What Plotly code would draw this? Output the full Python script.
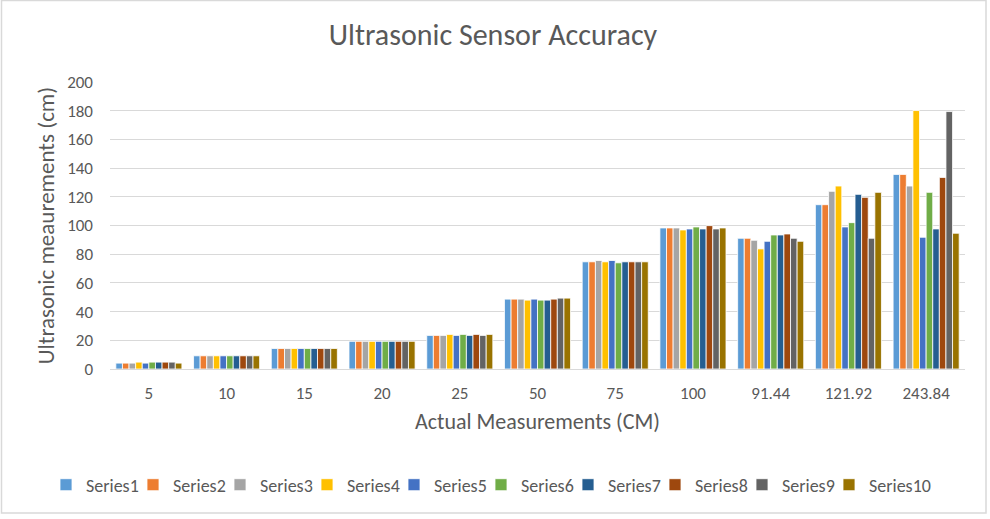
import plotly.graph_objects as go

categories = ["5", "10", "15", "20", "25", "50", "75", "100", "91.44", "121.92", "243.84"]
series_names = ["Series1", "Series2", "Series3", "Series4", "Series5",
                "Series6", "Series7", "Series8", "Series9", "Series10"]

# values per series, one value per category
s1 = [4.1, 9.2, 14.3, 19.3, 23.4, 48.7, 74.7, 98.3, 91.1, 114.5, 135.6]
s2 = [4.1, 9.2, 14.3, 19.3, 23.4, 48.7, 74.7, 98.3, 91.1, 114.5, 135.6]
s3 = [4.1, 9.2, 14.3, 19.3, 23.4, 48.7, 75.6, 98.3, 89.7, 123.8, 127.5]
s4 = [4.8, 9.2, 14.3, 19.3, 24.1, 48.0, 74.7, 96.9, 83.7, 127.5, 180.1]
s5 = [4.1, 9.2, 14.3, 19.3, 23.4, 48.7, 75.6, 97.6, 89.0, 99.0, 91.8]
s6 = [4.8, 9.2, 14.3, 19.3, 24.1, 48.0, 74.0, 99.0, 93.4, 102.0, 123.1]
s7 = [4.8, 9.2, 14.3, 19.3, 23.4, 48.0, 74.7, 97.6, 93.4, 121.7, 97.6]
s8 = [4.8, 9.2, 14.3, 19.3, 24.1, 48.7, 74.7, 99.9, 94.1, 119.6, 133.5]
s9 = [4.8, 9.2, 14.3, 19.3, 23.4, 49.4, 74.7, 97.6, 91.1, 91.1, 179.4]
s10 = [4.1, 9.2, 14.3, 19.3, 24.1, 49.4, 74.7, 98.3, 89.0, 123.1, 94.6]
all_series = [s1, s2, s3, s4, s5, s6, s7, s8, s9, s10]

colors = ["#5B9BD5", "#ED7D31", "#A5A5A5", "#FFC000", "#4472C4",
          "#70AD47", "#255E91", "#9E480E", "#636363", "#997300"]

y_ticks = [0, 20, 40, 60, 80, 100, 120, 140, 160, 180, 200]

FONT = "Carlito, Calibri, Lato, sans-serif"
GRAY = "#595959"

W, H = 990, 519
L, R, T, B = 110, 25, 82, 150
pw, ph = W - L - R, H - T - B

def px_x(p):
    return (p - L) / pw

def px_y(p):
    return (H - B - p) / ph

LEG_X = 46      # left edge of the legend row, px
ITEM = 87       # spacing between legend entries, px

fig = go.Figure()
legends = {}
for i, (name, vals, col) in enumerate(zip(series_names, all_series, colors)):
    key = "legend" if i == 0 else f"legend{i + 1}"
    fig.add_trace(go.Bar(
        name=name, x=categories, y=vals, showlegend=True,
        marker=dict(color=col, line=dict(color="white", width=0.8)),
        legend=key,
    ))
    legends[key] = dict(orientation="h", xref="container", x=(LEG_X + i * ITEM) / W, xanchor="left",
                        yref="container", y=1 - 485 / H, yanchor="middle",
                        font=dict(size=18, color=GRAY), itemwidth=30,
                        bgcolor="rgba(0,0,0,0)")

fig.update_layout(
    width=W, height=H, showlegend=True,
    margin=dict(l=L, r=R, t=T, b=B, autoexpand=False),
    paper_bgcolor="white", plot_bgcolor="white",
    barmode="group", bargap=0.15, bargroupgap=0.0,
    font=dict(family=FONT, color=GRAY, size=17),
    title=dict(text="Ultrasonic Sensor Accuracy", xref="container", x=493 / W, xanchor="center",
               yref="container", y=1 - 34 / H, yanchor="middle",
               font=dict(family=FONT, size=30, color=GRAY)),
    xaxis=dict(
        type="category", showgrid=False, showline=True, linecolor="#D9D9D9",
        ticks="", tickfont=dict(size=17, color=GRAY), ticklabelstandoff=9,
        title=dict(text="Actual Measurements (CM)", font=dict(size=22, color=GRAY), standoff=10),
    ),
    yaxis=dict(
        range=[0, 200], tickvals=y_ticks, showgrid=True, gridcolor="#D9D9D9",
        zeroline=False, showline=False, ticks="", tickfont=dict(size=17, color=GRAY),
        ticklabelstandoff=16,
        title=dict(text="Ultrasonic meaurements (cm)", font=dict(size=23, color=GRAY), standoff=6),
    ),
    shapes=[dict(type="rect", xref="paper", yref="paper",
                 x0=px_x(1.5), x1=px_x(986), y0=px_y(513), y1=px_y(0.5),
                 line=dict(color="#D9D9D9", width=1.5), fillcolor="rgba(0,0,0,0)", layer="above")],
    **legends,
)

fig.write_html("out.html", config={"displayModeBar": False},
               post_script="document.body.style.margin='0px';")
